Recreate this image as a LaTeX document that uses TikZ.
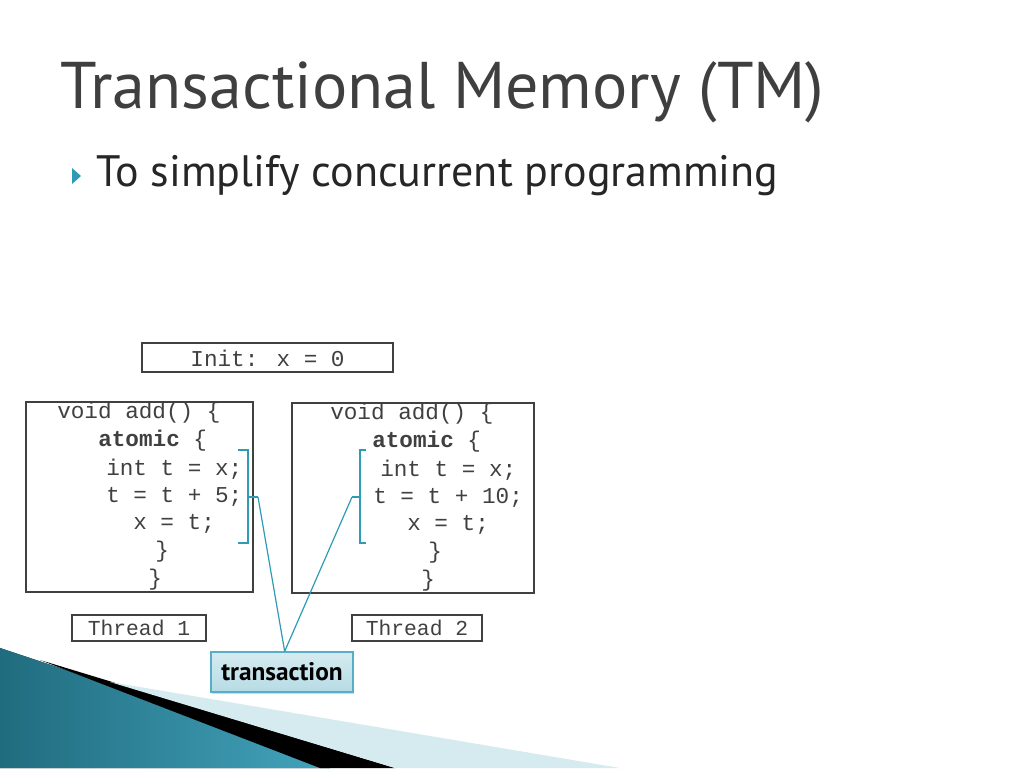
\documentclass[tikz,border=0pt]{standalone}
\usepackage{fontspec}
\setmainfont{PT Sans}
\newfontfamily\codefont{Liberation Mono}
\usetikzlibrary{shadows}
\definecolor{teal1}{HTML}{2E9AB5}
\definecolor{titlec}{HTML}{3F3F3F}
\tikzset{
 codebox/.style={draw=black!75,line width=0.9pt},
 code/.style={anchor=west,inner sep=0pt,font=\codefont\fontsize{17}{18}\selectfont,text=black!75},
 brk/.style={draw=teal1,line width=1.1pt},
 conn/.style={draw=teal1,line width=0.9pt},
}
\begin{document}
\begin{tikzpicture}[x=0.75pt,y=-0.75pt]
\useasboundingbox (0,0) rectangle (1024,768);
% bottom decoration
\fill[left color=teal1!70!black,right color=teal1!90] (0,648) -- (60,668) -- (330,768) -- (0,768) -- cycle;
\fill[black] (40,660) -- (395,768) -- (320,768) -- cycle;
\fill[teal1!20] (110,682) -- (620,768) -- (395,768) -- cycle;
% title
\node[anchor=west,text=titlec,font=\fontsize{49.5}{54}\selectfont] (title) at (56,92) {Transactional Memory (TM)};
\fill[teal1] (72,168) -- (81,176) -- (72,184) -- cycle;
\node[anchor=west,text=black!85,font=\fontsize{33}{36}\selectfont] (bullet) at (92,176) {To simplify concurrent programming};
% init
\draw[codebox] (142,343) rectangle (393,372);
\node[code,anchor=center] (init) at (267.5,358) {Init: x = 0};
% boxes
\draw[codebox] (26,402) rectangle (253,592);
\draw[codebox] (292,403) rectangle (534,593);
\node[code] (a1) at (57,413) {void add() \{};
\node[code] (a2) at (98,441) {\textbf{atomic} \{};
\node[code] (a3) at (106,469) {int t = x;};
\node[code] (a4) at (106,497) {t = t + 5;};
\node[code] (a5) at (133,524) {x = t;};
\node[code] (a6) at (155,552) {\}};
\node[code] (a7) at (148,580) {\}};
\node[code] (b1) at (330,414) {void add() \{};
\node[code] (b2) at (372,442) {\textbf{atomic} \{};
\node[code] (b3) at (380,470) {int t = x;};
\node[code] (b4) at (373,498) {t = t + 10;};
\node[code] (b5) at (407,525) {x = t;};
\node[code] (b6) at (428,553) {\}};
\node[code] (b7) at (421,581) {\}};
% brackets
\draw[brk] (238,450) -- (248,450) -- (248,543) -- (238,543);
\draw[brk] (248,497) -- (258,497) coordinate (lt);
\draw[brk] (366,450) -- (360,450) -- (360,543) -- (366,543);
\draw[brk] (360,497) -- (352,497) coordinate (rt);
% thread labels
\node[draw=black!75,line width=0.8pt,minimum width=134*0.75pt,minimum height=26*0.75pt,inner sep=0pt,font=\codefont\fontsize{16}{16}\selectfont,text=black!75] (t1) at (139,628) {Thread 1};
\node[draw=black!75,line width=0.8pt,minimum width=130*0.75pt,minimum height=26*0.75pt,inner sep=0pt,font=\codefont\fontsize{16}{16}\selectfont,text=black!75] (t2) at (417,628) {Thread 2};
% transaction
\node[draw=teal1!80,line width=1pt,top color=teal1!20,bottom color=teal1!35,drop shadow={opacity=0.3,shadow xshift=1pt,shadow yshift=-1.5pt},minimum width=142*0.75pt,minimum height=40*0.75pt,inner sep=0pt,font=\bfseries\fontsize{19}{20}\selectfont] (tx) at (282,672) {transaction};
\draw[conn] (lt) -- ([xshift=2pt]tx.north);
\draw[conn] (rt) -- ([xshift=2pt]tx.north);
\end{tikzpicture}
\end{document}
